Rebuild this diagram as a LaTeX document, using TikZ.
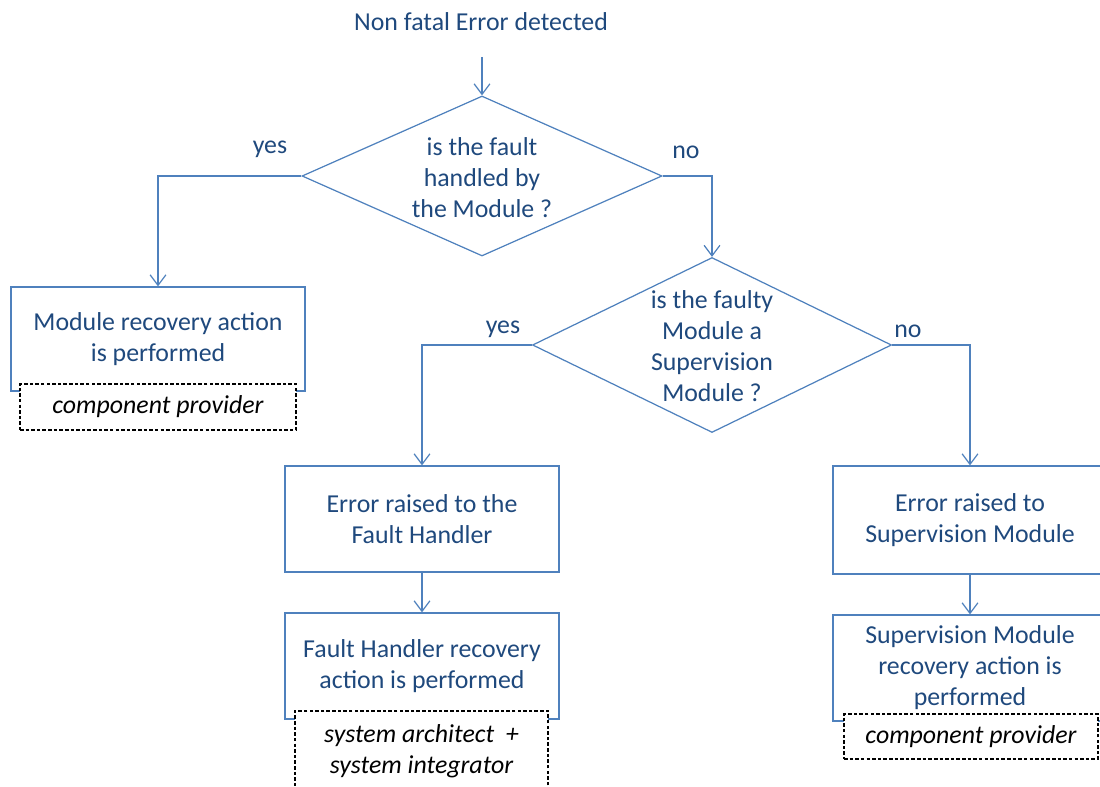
\documentclass[tikz,border=0pt]{standalone}
\usepackage{fontspec}
\setmainfont{Carlito}
\usepackage{xcolor}
\usepackage{tikz}
\usetikzlibrary{shapes.geometric, arrows.meta, calc}
\definecolor{textblue}{HTML}{1F497D}
\definecolor{lineblue}{HTML}{4F81BD}

\begin{document}
\begin{tikzpicture}[
    txt/.style={font=\fontsize{14.7}{17.6}\selectfont, text=textblue, align=center},
    box/.style={rectangle, draw=lineblue, line width=0.7pt, fill=white, txt},
    decision/.style={diamond, draw=lineblue, line width=0.7pt, inner sep=0pt},
    owner/.style={rectangle, draw=black, line width=0.6pt, dash pattern=on 2pt off 1.2pt,
        fill=white, font=\fontsize{14.7}{17.6}\selectfont\itshape, align=center},
    lbl/.style={txt},
    arrow/.style={draw=lineblue, line width=0.7pt, -{Straight Barb[length=6pt,width=9pt]}}
]
\useasboundingbox (0,0) rectangle (22,-15.74);

\node[txt] (start) at (9.62,-0.43) {Non fatal Error detected};
\node[decision, minimum width=7.2cm, minimum height=3.2cm] (d1) at (9.64,-3.52) {};
\node[txt] (d1txt) at ($(d1)+(0,-0.04)$) {is the fault\\handled by\\the Module ?};
\node[decision, minimum width=7.18cm, minimum height=3.5cm] (d2) at (14.24,-6.9) {};
\node[txt] (d2txt) at ($(d2)+(0,-0.03)$) {is the faulty\\Module a\\Supervision\\Module ?};

\node[box, minimum width=5.88cm, minimum height=2.08cm] (b1) at (3.16,-6.78) {Module recovery action\\is performed};
\node[box, minimum width=5.48cm, minimum height=2.12cm] (b2) at (8.44,-10.38) {Error raised to the\\Fault Handler};
\node[box, minimum width=5.48cm, minimum height=2.12cm] (b3) at (8.44,-13.32) {Fault Handler recovery\\action is performed};
\node[box, minimum width=5.48cm, minimum height=2.16cm] (b4) at (19.4,-10.4) {Error raised to\\Supervision Module};
\node[box, minimum width=5.48cm, minimum height=2.12cm] (b5) at (19.4,-13.36) {Supervision Module\\recovery action is\\performed};

\node[owner, minimum width=5.52cm, minimum height=0.92cm] (o1) at (3.16,-8.14) {component provider};
\node[owner, minimum width=5.06cm, minimum height=1.6cm] (o3) at (8.43,-15.02) {system architect \ +\\system integrator};
\node[owner, minimum width=5.08cm, minimum height=0.9cm] (o5) at (19.42,-14.73) {component provider};

\node[lbl] (yes1) at (5.4,-2.99) {yes};
\node[lbl] (no1) at (13.72,-3.05) {no};
\node[lbl] (yes2) at (10.06,-6.59) {yes};
\node[lbl] (no2) at (18.16,-6.63) {no};

\draw[arrow, shorten <=0.4cm] (start.south -| d1.north) -- (d1.north);
\draw[arrow] (d1.west) -| (b1.north);
\draw[arrow] (d1.east) -| (d2.north);
\draw[arrow] (d2.west) -| (b2.north);
\draw[arrow] (d2.east) -| (b4.north);
\draw[arrow] (b2) -- (b3);
\draw[arrow] (b4) -- (b5);
\end{tikzpicture}
\end{document}
